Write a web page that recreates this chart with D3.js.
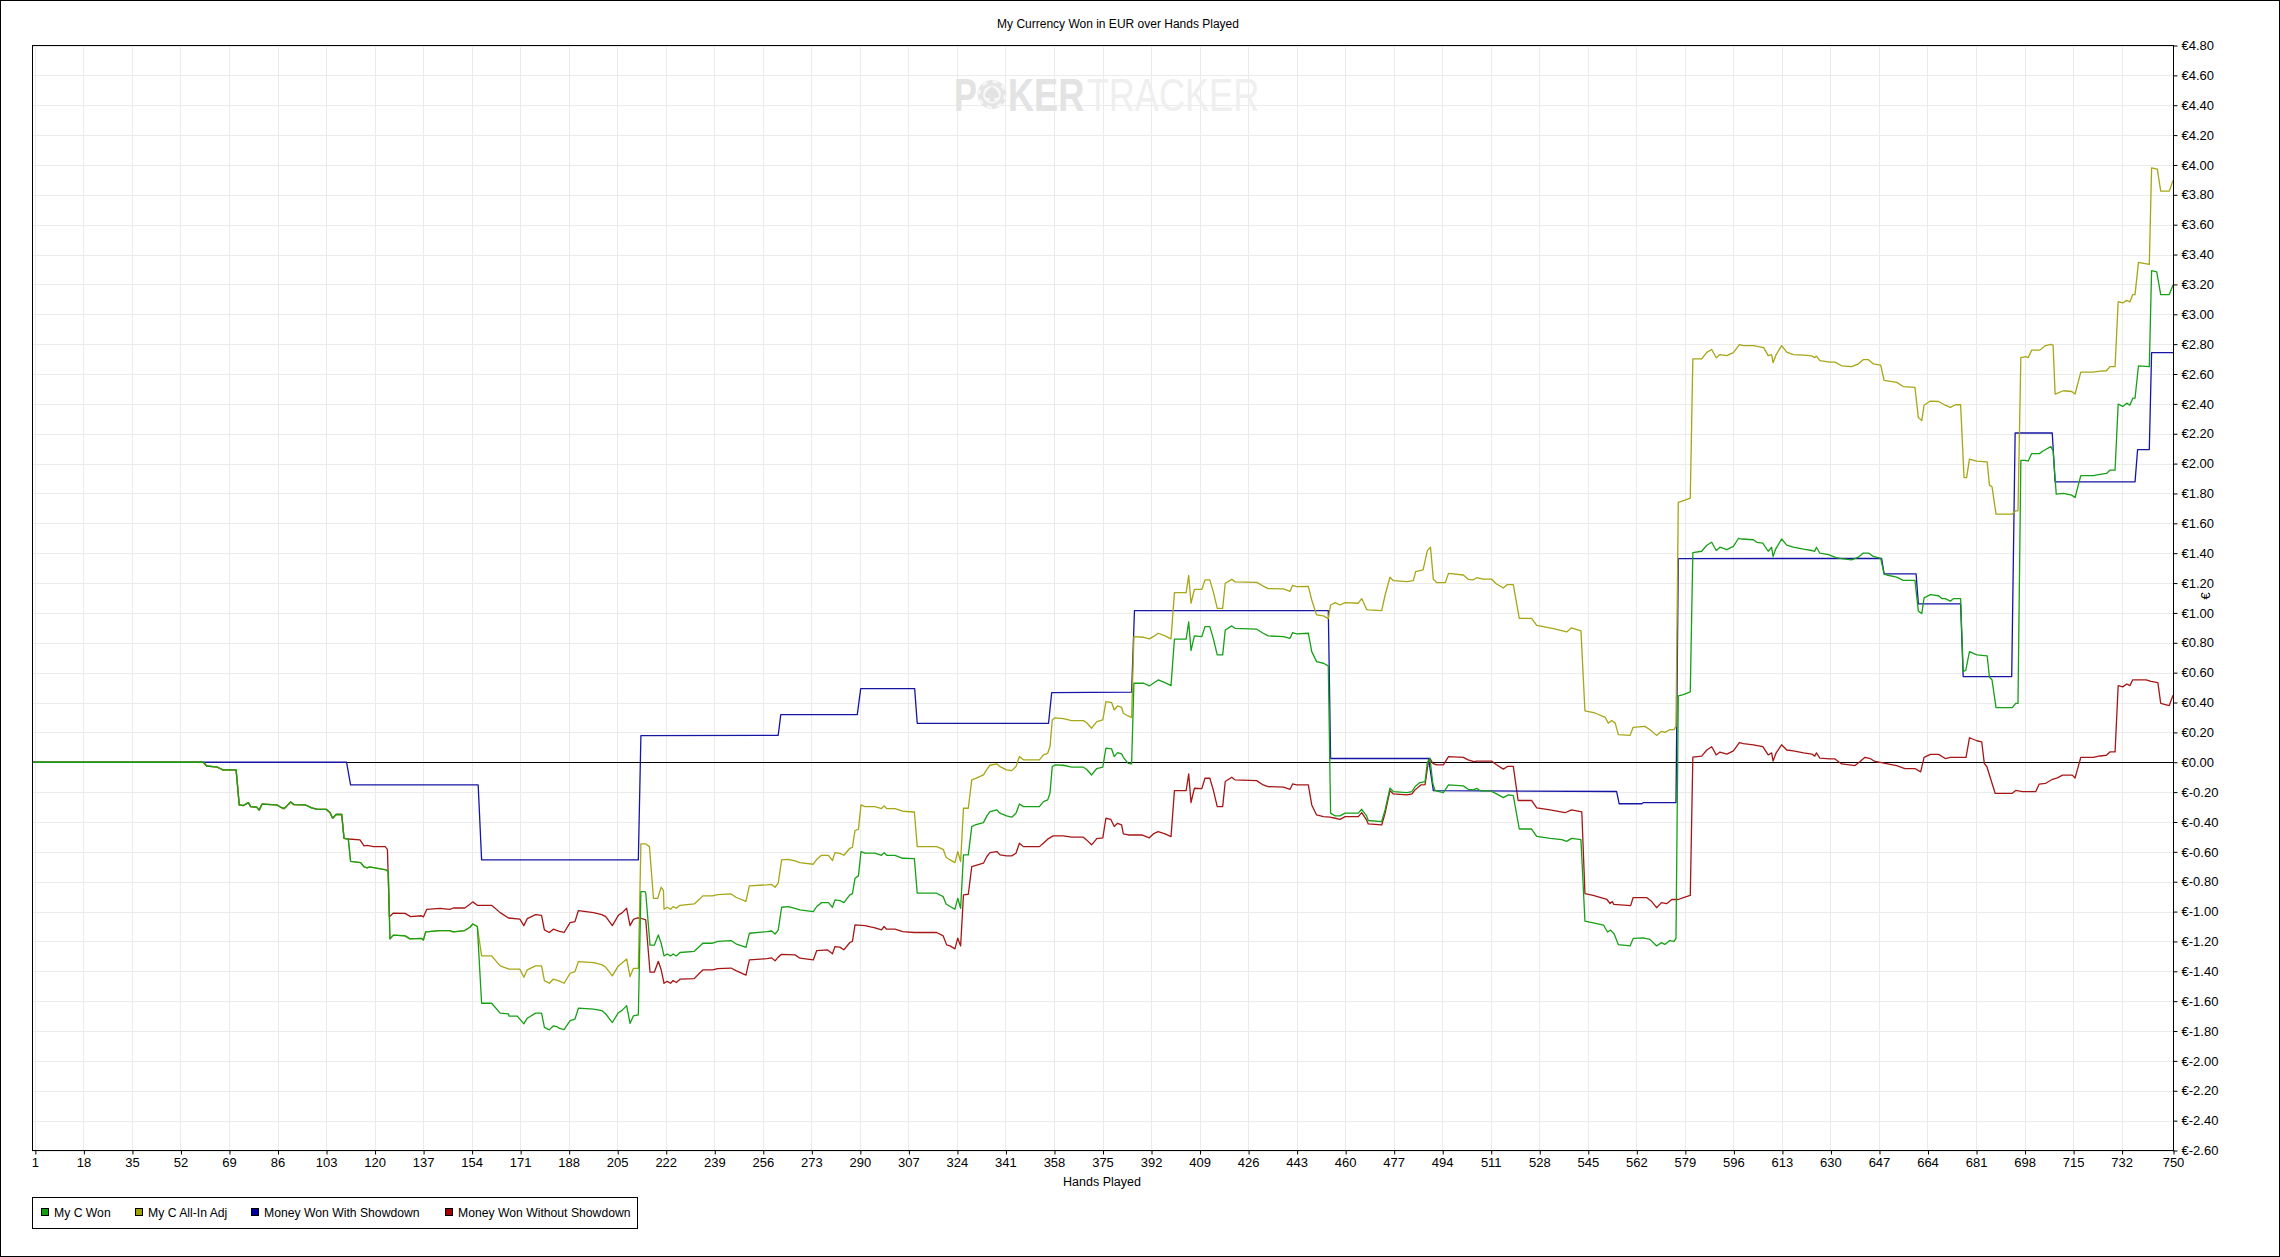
<!DOCTYPE html>
<html><head><meta charset="utf-8">
<script src="https://cdn.jsdelivr.net/npm/d3@7"></script>
<style>
body{margin:0;background:#fff;}
text{font-family:"Liberation Sans Narrow","Arial Narrow","Liberation Sans",sans-serif;}
</style>
</head><body>
<svg id="chart" width="2280" height="1257"></svg>
<script>
// ---------------- DATA ----------------
const title = "My Currency Won in EUR over Hands Played";
const xLabel = "Hands Played";
const yLabel = "€";
const seriesNames = ["My C Won", "My C All-In Adj", "Money Won With Showdown", "Money Won Without Showdown"];
const xTickValues = [1,18,35,52,69,86,103,120,137,154,171,188,205,222,239,256,273,290,307,324,341,358,375,392,409,426,443,460,477,494,511,528,545,562,579,596,613,630,647,664,681,698,715,732,750];
const yTickValues = [-2.6,-2.4,-2.2,-2.0,-1.8,-1.6,-1.4,-1.2,-1.0,-0.8,-0.6,-0.4,-0.2,0,0.2,0.4,0.6,0.8,1.0,1.2,1.4,1.6,1.8,2.0,2.2,2.4,2.6,2.8,3.0,3.2,3.4,3.6,3.8,4.0,4.2,4.4,4.6,4.8];

// [hand, EUR]
const myCWon = [[0,0],[60,0],[61.2,-0.025],[63.3,-0.029],[64.7,-0.031],[65.9,-0.042],[66.8,-0.051],[71.5,-0.051],[72.6,-0.286],[74,-0.29],[75.8,-0.27],[76.6,-0.297],[78.7,-0.30],[79.6,-0.32],[80.6,-0.28],[85.7,-0.285],[87,-0.30],[88.3,-0.31],[89.2,-0.294],[90.6,-0.266],[91.8,-0.284],[95.8,-0.286],[98,-0.306],[100,-0.315],[103,-0.315],[104.4,-0.337],[105.3,-0.375],[106.5,-0.35],[108.5,-0.35],[109.3,-0.51],[110.8,-0.514],[111.6,-0.664],[115.1,-0.672],[116.3,-0.70],[117.5,-0.708],[118.2,-0.70],[124,-0.72],[124.8,-0.733],[125.4,-1.183],[126.6,-1.158],[130.7,-1.163],[132.4,-1.183],[136.5,-1.18],[137.1,-1.19],[137.9,-1.136],[142.9,-1.127],[146.3,-1.127],[147.6,-1.136],[151.6,-1.127],[153.4,-1.105],[154.4,-1.083],[156,-1.10],[157.5,-1.614],[161,-1.614],[164,-1.68],[166.9,-1.685],[167.1,-1.70],[170,-1.70],[172.3,-1.752],[173.5,-1.714],[176.4,-1.68],[178.5,-1.68],[179.5,-1.775],[181.2,-1.792],[182.6,-1.766],[183.8,-1.77],[184.8,-1.782],[186.4,-1.79],[188.5,-1.73],[190.2,-1.72],[191.4,-1.647],[196.7,-1.653],[199.6,-1.663],[201,-1.686],[203.3,-1.743],[205.4,-1.677],[206.8,-1.66],[208.3,-1.63],[209.5,-1.748],[210.7,-1.698],[212.4,-1.692],[213.3,-0.866],[214.7,-0.866],[215,-0.877],[216.5,-1.225],[218,-1.225],[219.4,-1.157],[220.4,-1.212],[221.4,-1.297],[222.5,-1.284],[223.7,-1.297],[224.6,-1.284],[225.7,-1.297],[227,-1.274],[232,-1.266],[233.8,-1.234],[235,-1.212],[238.4,-1.212],[240.2,-1.20],[244.9,-1.194],[246.6,-1.216],[250.1,-1.24],[251.3,-1.145],[257.4,-1.134],[259.1,-1.13],[260.3,-1.15],[261.4,-1.124],[262.6,-0.971],[264.9,-0.967],[267.3,-0.978],[269,-0.989],[273.7,-1.0],[274.9,-0.966],[276.6,-0.94],[279,-0.94],[280.4,-0.971],[281.3,-0.922],[283,-0.926],[284.4,-0.94],[286.5,-0.888],[287.4,-0.88],[288.3,-0.777],[289.5,-0.761],[290.4,-0.598],[291.8,-0.609],[295.3,-0.609],[297.6,-0.623],[298.5,-0.605],[299.4,-0.623],[302.3,-0.623],[305,-0.643],[309.1,-0.645],[310.1,-0.877],[316.9,-0.877],[319.2,-0.9],[320.2,-0.949],[321.6,-0.966],[323.3,-0.984],[324.3,-0.911],[325.3,-0.978],[326.3,-0.62],[328,-0.62],[329.2,-0.431],[330.4,-0.42],[333.3,-0.404],[334.5,-0.359],[335.6,-0.33],[338,-0.319],[339.1,-0.341],[341.4,-0.359],[343.2,-0.368],[344.7,-0.341],[345.9,-0.279],[347.3,-0.297],[352.9,-0.297],[354.3,-0.263],[355.8,-0.252],[356.6,-0.208],[357.4,-0.029],[358.3,-0.018],[361.3,-0.02],[364.2,-0.033],[368.3,-0.033],[369.4,-0.047],[371.2,-0.085],[373,-0.042],[375.1,-0.033],[376.2,0.094],[378.2,0.089],[379.1,0.038],[380.3,0.065],[381.7,0.056],[382.3,0.033],[384,-0.007],[385.2,-0.011],[386,0.529],[389.4,0.529],[391.4,0.511],[392.8,0.529],[394.5,0.551],[396.9,0.533],[399,0.513],[400.2,0.824],[404.3,0.824],[405.2,0.94],[406,0.748],[407.2,0.846],[409.8,0.842],[410.9,0.908],[412.6,0.908],[413.8,0.83],[415.2,0.719],[417.1,0.719],[418,0.886],[420.3,0.913],[421.4,0.897],[429,0.891],[431.3,0.864],[433,0.846],[438.4,0.841],[440.7,0.83],[441.6,0.868],[443,0.86],[447.1,0.864],[448.3,0.741],[450,0.674],[452.4,0.663],[454.1,0.645],[454.9,-0.341],[456.5,-0.359],[458.2,-0.359],[460,-0.341],[464.6,-0.341],[465.8,-0.315],[467.5,-0.359],[468.1,-0.39],[472.8,-0.397],[474,-0.319],[475.7,-0.174],[476.9,-0.196],[481.6,-0.203],[483.4,-0.196],[484.5,-0.163],[486.2,-0.136],[488,-0.13],[488.8,-0.002],[489.7,0.027],[490.7,-0.141],[491.5,-0.19],[494.4,-0.203],[496.2,-0.152],[501.4,-0.158],[503.1,-0.181],[504.9,-0.185],[506.1,-0.175],[507.3,-0.191],[510.7,-0.191],[512.9,-0.21],[515.4,-0.237],[517.2,-0.218],[518.9,-0.224],[521,-0.447],[525.3,-0.447],[527.1,-0.496],[531.8,-0.51],[535.9,-0.518],[537.6,-0.53],[539.3,-0.51],[542.6,-0.518],[544,-1.064],[546.9,-1.075],[550.5,-1.09],[551.9,-1.137],[553,-1.124],[554.2,-1.148],[555.7,-1.221],[559.8,-1.23],[560.9,-1.18],[564.4,-1.176],[566.8,-1.186],[569.1,-1.23],[570.8,-1.208],[572,-1.22],[573.7,-1.194],[575.2,-1.2],[575.9,-1.18],[576.7,0.444],[578.5,0.453],[580.9,0.472],[581.8,1.404],[584.9,1.413],[586.7,1.453],[588.4,1.473],[590,1.418],[591.3,1.44],[593.7,1.424],[596,1.446],[597.8,1.5],[599,1.495],[603,1.49],[604.2,1.473],[606.3,1.468],[608.2,1.413],[609.4,1.44],[609.9,1.378],[610.8,1.427],[612.9,1.495],[614.7,1.454],[617,1.44],[620.6,1.427],[623.5,1.418],[624.5,1.413],[625.1,1.44],[626.3,1.4],[629.3,1.39],[632,1.37],[634,1.364],[637.4,1.356],[639.8,1.373],[641.5,1.401],[643.3,1.401],[645,1.379],[647.6,1.365],[648.8,1.262],[649.7,1.254],[653.2,1.24],[655.5,1.218],[659.6,1.218],[660.8,1.012],[662,0.996],[662.8,1.101],[665,1.123],[667.9,1.115],[669,1.096],[670.2,1.096],[672,1.079],[673.2,1.096],[675.6,1.096],[676.5,0.607],[677.4,0.616],[678.7,0.741],[681.3,0.719],[684.9,0.713],[685.7,0.569],[686.6,0.552],[688,0.366],[693.7,0.366],[694.9,0.394],[695.7,0.394],[696.7,2.022],[698.2,2.022],[699.3,2.017],[700.5,2.067],[703.2,2.067],[704.6,2.086],[707.2,2.114],[708,2.086],[709.1,1.795],[711.6,1.8],[714.5,1.789],[715.7,1.773],[717.7,1.92],[722.1,1.92],[724.4,1.928],[726.7,1.934],[727.9,1.956],[729.7,1.956],[730.8,2.399],[732.4,2.383],[733.8,2.405],[734.9,2.391],[735.9,2.438],[736.7,2.438],[737.9,2.655],[741.7,2.649],[742.5,3.293],[744.3,3.284],[745.7,3.132],[748.7,3.132],[750,3.196]];

const myCAllInAdj = [[0,0],[60,0],[61.2,-0.025],[63.3,-0.029],[64.7,-0.031],[65.9,-0.042],[66.8,-0.051],[71.5,-0.051],[72.6,-0.286],[74,-0.29],[75.8,-0.27],[76.6,-0.297],[78.7,-0.30],[79.6,-0.32],[80.6,-0.28],[85.7,-0.285],[87,-0.30],[88.3,-0.31],[89.2,-0.294],[90.6,-0.266],[91.8,-0.284],[95.8,-0.286],[98,-0.306],[100,-0.315],[103,-0.315],[104.4,-0.337],[105.3,-0.375],[106.5,-0.35],[108.5,-0.35],[109.3,-0.51],[110.8,-0.514],[111.6,-0.664],[115.1,-0.672],[116.3,-0.70],[117.5,-0.708],[118.2,-0.70],[124,-0.72],[124.8,-0.733],[125.4,-1.183],[126.6,-1.158],[130.7,-1.163],[132.4,-1.183],[136.5,-1.18],[137.1,-1.19],[137.9,-1.136],[142.9,-1.127],[146.3,-1.127],[147.6,-1.136],[151.6,-1.127],[153.4,-1.105],[154.4,-1.083],[156,-1.10],[157.5,-1.297],[161,-1.297],[164,-1.364],[167.1,-1.386],[170.9,-1.386],[172.3,-1.44],[173.5,-1.39],[176.4,-1.364],[178.5,-1.364],[179.5,-1.462],[181.2,-1.48],[182.6,-1.453],[184.8,-1.466],[186.4,-1.48],[188.5,-1.413],[190.2,-1.402],[191.4,-1.335],[196.7,-1.342],[199.6,-1.355],[201,-1.373],[203.3,-1.43],[205.4,-1.364],[206.8,-1.342],[208.3,-1.317],[209.5,-1.435],[210.7,-1.38],[212.4,-1.38],[213.3,-0.547],[215,-0.547],[216.3,-0.565],[217.7,-0.911],[219.2,-0.911],[220.4,-0.837],[221.2,-0.86],[221.4,-0.984],[222.5,-0.971],[223.7,-0.984],[224.6,-0.967],[225.7,-0.978],[227,-0.958],[232,-0.949],[233.8,-0.918],[235,-0.895],[238.4,-0.895],[240.2,-0.887],[244.9,-0.882],[246.6,-0.904],[250.1,-0.931],[251.3,-0.828],[257.4,-0.821],[259.1,-0.818],[260.3,-0.837],[261.4,-0.81],[262.6,-0.654],[264.9,-0.65],[267.3,-0.661],[269,-0.672],[273.7,-0.683],[274.9,-0.65],[276.6,-0.623],[279,-0.623],[280.4,-0.658],[281.3,-0.605],[283,-0.61],[284.4,-0.623],[286.5,-0.576],[287.4,-0.57],[288.3,-0.457],[289.5,-0.449],[290.4,-0.285],[291.8,-0.297],[295.3,-0.297],[297.6,-0.31],[298.5,-0.292],[299.4,-0.31],[302.3,-0.31],[305,-0.328],[309.1,-0.333],[310.1,-0.565],[316.9,-0.565],[319.2,-0.583],[320.2,-0.636],[321.6,-0.654],[323.3,-0.672],[324.3,-0.598],[325.3,-0.665],[326.3,-0.308],[328,-0.308],[329.2,-0.118],[330.4,-0.11],[333.3,-0.085],[334.5,-0.047],[335.6,-0.02],[338,-0.011],[339.1,-0.029],[341.4,-0.051],[343.2,-0.056],[344.7,-0.029],[345.9,0.038],[347.3,0.016],[352.9,0.016],[354.3,0.049],[355.8,0.06],[356.6,0.105],[357.4,0.283],[358.3,0.297],[361.3,0.292],[364.2,0.279],[368.3,0.279],[369.4,0.266],[371.2,0.228],[373,0.272],[375.1,0.283],[376.2,0.406],[378.2,0.4],[379.1,0.35],[380.3,0.377],[381.7,0.368],[382.3,0.328],[384,0.31],[385.2,0.301],[386,0.841],[389.4,0.837],[391.4,0.826],[392.8,0.841],[394.5,0.864],[396.9,0.846],[399,0.826],[400.2,1.136],[404.3,1.136],[405.2,1.252],[406,1.065],[407.2,1.158],[409.8,1.158],[410.9,1.221],[412.6,1.221],[413.8,1.143],[415.2,1.031],[417.1,1.031],[418,1.199],[420.3,1.225],[421.4,1.208],[429,1.205],[431.3,1.18],[433,1.163],[438.4,1.161],[440.7,1.145],[441.6,1.185],[443,1.176],[447.1,1.178],[448.3,1.087],[450,0.987],[452.4,0.98],[454.1,0.962],[454.9,1.053],[456.5,1.069],[458.2,1.053],[460,1.069],[464.6,1.065],[465.8,1.096],[467.5,1.024],[468.1,1.02],[472.8,1.016],[474,1.12],[475.7,1.239],[476.9,1.216],[481.6,1.21],[483.9,1.216],[484.7,1.277],[487.3,1.288],[488.8,1.417],[489.9,1.44],[490.9,1.225],[492.1,1.203],[495.1,1.203],[496.2,1.265],[501.4,1.254],[503.1,1.225],[504.9,1.222],[506.1,1.236],[508.4,1.227],[511.3,1.227],[512.9,1.195],[515.4,1.167],[516.8,1.19],[518.9,1.19],[521,0.963],[525.3,0.963],[527.1,0.916],[533,0.895],[537.6,0.873],[539.3,0.9],[542.6,0.88],[544,0.344],[547.5,0.33],[551.1,0.3],[552.2,0.262],[553.4,0.28],[554.6,0.262],[555.7,0.185],[559.8,0.18],[560.9,0.234],[565,0.24],[566.8,0.218],[569.1,0.18],[570.8,0.207],[572,0.2],[573.7,0.218],[575.2,0.218],[575.9,0.24],[576.7,1.74],[579,1.755],[580.9,1.769],[581.8,2.701],[584.9,2.701],[586.7,2.745],[588.4,2.764],[590,2.709],[591.3,2.73],[593.7,2.723],[596,2.743],[598.1,2.797],[599.5,2.79],[603,2.79],[604.4,2.785],[606.6,2.777],[608.2,2.723],[609.4,2.73],[609.9,2.676],[611,2.73],[612.9,2.79],[614.7,2.747],[617,2.73],[620.6,2.727],[623.5,2.721],[624.5,2.71],[625.1,2.72],[626.3,2.69],[629.8,2.68],[631.6,2.68],[633.9,2.655],[637.4,2.649],[639.8,2.668],[641.5,2.696],[643.3,2.696],[645,2.668],[647.6,2.66],[648.8,2.558],[653.2,2.544],[655.5,2.516],[659.6,2.51],[660.8,2.308],[662,2.288],[662.8,2.391],[665,2.419],[667.9,2.416],[670.2,2.391],[672,2.377],[673.8,2.394],[675.6,2.394],[676.8,1.906],[677.7,1.906],[678.7,2.03],[681.3,2.016],[684.9,2.011],[685.7,1.856],[686.6,1.845],[688,1.662],[693.7,1.662],[694.9,1.684],[695.7,1.684],[696.7,2.71],[698.4,2.716],[699.3,2.71],[700.5,2.76],[703.4,2.76],[705.1,2.788],[707.2,2.799],[708,2.793],[708.7,2.466],[711.6,2.488],[714.5,2.483],[715.7,2.466],[717.7,2.613],[722.1,2.613],[724.4,2.619],[726.7,2.622],[727.9,2.649],[729.7,2.649],[730.8,3.085],[732.4,3.076],[733.8,3.093],[734.9,3.082],[735.9,3.132],[736.7,3.132],[737.9,3.348],[741.7,3.334],[742.5,3.981],[744.5,3.972],[745.7,3.825],[748.7,3.825],[750,3.897]];

const wonWithShowdown = [[0,0],[110.2,0],[111.6,-0.152],[156.3,-0.152],[157.5,-0.654],[212.4,-0.654],[213.3,0.178],[261.4,0.181],[262.3,0.319],[289.1,0.319],[290.3,0.493],[309.2,0.493],[310.1,0.261],[356.1,0.261],[357.2,0.466],[385.2,0.469],[386.2,1.016],[454.1,1.016],[454.9,0.025],[489.2,0.025],[490.9,-0.19],[555.1,-0.196],[556,-0.278],[563.9,-0.278],[564.5,-0.27],[575.9,-0.27],[576.7,1.364],[647.9,1.365],[648.8,1.262],[660,1.262],[660.8,1.06],[675.6,1.06],[676.5,0.574],[693.5,0.574],[694.7,2.205],[707.7,2.205],[708.7,1.878],[736.7,1.878],[737.6,2.094],[741.7,2.094],[742.5,2.743],[750,2.743]];

const wonWithoutShowdown = [[0,0],[60,0],[61.2,-0.025],[63.3,-0.029],[64.7,-0.031],[65.9,-0.042],[66.8,-0.051],[71.5,-0.051],[72.6,-0.286],[74,-0.29],[75.8,-0.27],[76.6,-0.297],[78.7,-0.30],[79.6,-0.32],[80.6,-0.28],[85.7,-0.285],[87,-0.30],[88.3,-0.31],[89.2,-0.294],[90.6,-0.266],[91.8,-0.284],[95.8,-0.286],[98,-0.306],[100,-0.315],[103,-0.315],[104.4,-0.337],[105.3,-0.375],[106.5,-0.35],[108.5,-0.35],[109.3,-0.51],[111,-0.514],[114.9,-0.52],[116.3,-0.56],[117.5,-0.556],[119.6,-0.565],[123.7,-0.565],[124.5,-0.583],[125.2,-1.034],[126.6,-1.01],[130.7,-1.012],[132.6,-1.034],[136.5,-1.028],[137.1,-1.036],[138.3,-0.985],[142.9,-0.978],[146.3,-0.985],[147.6,-0.976],[151.6,-0.976],[153.4,-0.951],[154.4,-0.935],[156,-0.958],[161,-0.958],[164,-1.007],[166.9,-1.043],[170.9,-1.05],[172.3,-1.094],[173.5,-1.047],[176.4,-1.02],[178.5,-1.025],[179.5,-1.123],[181.2,-1.14],[182.6,-1.118],[184.8,-1.132],[186.4,-1.14],[188.5,-1.074],[190.2,-1.067],[191.4,-0.993],[196.7,-1.007],[199.6,-1.02],[201,-1.034],[203.3,-1.094],[205.4,-1.025],[206.8,-1.007],[208.3,-0.978],[209.5,-1.094],[210.7,-1.052],[211.9,-1.043],[213,-1.043],[215,-1.056],[216.5,-1.406],[218,-1.406],[219.4,-1.333],[220.4,-1.39],[221.4,-1.48],[222.5,-1.467],[223.7,-1.48],[224.6,-1.462],[225.7,-1.475],[227,-1.453],[232,-1.449],[233.8,-1.413],[235,-1.391],[238.4,-1.391],[240.2,-1.382],[244.9,-1.378],[246.6,-1.395],[250.1,-1.426],[251.3,-1.324],[257.4,-1.315],[259.1,-1.31],[260.3,-1.33],[261.4,-1.305],[262.6,-1.286],[267.3,-1.29],[269,-1.312],[273.7,-1.324],[274.9,-1.261],[278.6,-1.256],[280.4,-1.283],[281.3,-1.234],[283,-1.238],[284.4,-1.256],[286.5,-1.207],[287.4,-1.2],[288.3,-1.089],[291.8,-1.094],[295.3,-1.109],[297.6,-1.123],[298.5,-1.1],[299.4,-1.118],[302.3,-1.118],[305,-1.134],[309.1,-1.14],[316.9,-1.14],[319.2,-1.163],[320.4,-1.223],[321.6,-1.23],[323.3,-1.25],[324.3,-1.178],[325.3,-1.23],[326.3,-0.888],[328,-0.884],[329.2,-0.699],[333.3,-0.676],[334.5,-0.631],[335.6,-0.605],[338,-0.598],[339.1,-0.62],[341.4,-0.627],[343.2,-0.627],[344.7,-0.609],[345.9,-0.542],[347.3,-0.565],[352.9,-0.565],[354.3,-0.542],[355.8,-0.515],[357.7,-0.493],[361.3,-0.493],[364.2,-0.502],[368.3,-0.502],[369.4,-0.52],[371.2,-0.553],[373,-0.511],[375.1,-0.507],[376.2,-0.375],[377.9,-0.382],[379.1,-0.43],[380.3,-0.409],[381.7,-0.42],[382.3,-0.48],[384,-0.487],[388.8,-0.487],[391.4,-0.506],[392.8,-0.48],[394.5,-0.464],[396.9,-0.48],[399,-0.498],[400.2,-0.19],[404.3,-0.19],[405.2,-0.078],[406,-0.27],[407.2,-0.174],[409.8,-0.176],[410.9,-0.107],[412.6,-0.107],[413.8,-0.185],[415.2,-0.297],[417.1,-0.297],[418,-0.129],[420.3,-0.1],[421.4,-0.118],[429,-0.123],[431.3,-0.152],[433,-0.163],[438.4,-0.167],[440.7,-0.181],[441.6,-0.145],[443,-0.152],[447.1,-0.152],[448.3,-0.286],[450,-0.353],[452.4,-0.364],[454.7,-0.368],[456.5,-0.375],[458.2,-0.382],[460,-0.364],[464.6,-0.364],[465.8,-0.337],[467.5,-0.386],[468.1,-0.413],[472.8,-0.42],[474,-0.341],[475.7,-0.19],[476.9,-0.212],[481.6,-0.218],[483.4,-0.212],[484.5,-0.185],[486.5,-0.152],[488,-0.15],[489.2,0.011],[489.7,0.027],[490.7,-0.007],[492.1,-0.018],[494.4,-0.018],[496.2,0.038],[501.4,0.033],[503.1,0.016],[505.1,0.004],[506.1,0.008],[511.3,0.008],[512.9,-0.015],[515.4,-0.046],[517,-0.027],[518.9,-0.027],[520.6,-0.256],[525.3,-0.256],[527.1,-0.305],[531.8,-0.319],[537,-0.338],[539.3,-0.319],[542.9,-0.333],[544,-0.879],[546.9,-0.892],[551.7,-0.919],[552.8,-0.946],[553.6,-0.933],[554.1,-0.952],[560,-0.96],[560.9,-0.906],[565.6,-0.906],[567.4,-0.933],[569.1,-0.974],[570.8,-0.94],[572.6,-0.947],[574.4,-0.919],[576.7,-0.919],[578.5,-0.906],[580.9,-0.892],[581.8,0.035],[584.9,0.041],[586.7,0.082],[588.4,0.104],[590,0.049],[591.3,0.068],[593.7,0.055],[596,0.076],[598.1,0.131],[599.5,0.125],[603,0.117],[606.3,0.104],[608.2,0.049],[609.4,0.063],[609.9,0.008],[611,0.063],[612.9,0.117],[614.7,0.082],[617,0.076],[620.6,0.063],[623.5,0.055],[624.5,0.041],[625.1,0.063],[626.3,0.027],[629.8,0.022],[631.6,0.022],[633.9,-0.011],[638.6,-0.022],[640.4,0.005],[642.1,0.033],[643.9,0.025],[645.6,0.005],[647.9,-0.003],[650.9,-0.014],[653.2,-0.022],[656.1,-0.042],[659.6,-0.042],[661.6,-0.064],[662.8,0.033],[665,0.053],[667.9,0.053],[670.2,0.025],[672,0.033],[677.5,0.033],[678.7,0.164],[681.3,0.144],[683,0.136],[683.9,-0.008],[684.8,-0.03],[687.7,-0.208],[693.7,-0.208],[694.9,-0.189],[697.3,-0.197],[701.9,-0.197],[703.1,-0.147],[705.4,-0.141],[707.8,-0.114],[709.5,-0.105],[711.3,-0.086],[714.7,-0.086],[715.7,-0.105],[717.7,0.033],[722.1,0.033],[724.4,0.042],[726.7,0.047],[727.9,0.069],[729.7,0.069],[730.8,0.513],[732.4,0.505],[733.8,0.524],[734.9,0.513],[735.9,0.552],[740.6,0.552],[742.3,0.541],[744.7,0.533],[745.7,0.394],[748.7,0.38],[750,0.449]];

// ---------------- DRAWING ----------------
const W = 2280, H = 1257;
const plot = {left: 32, right: 2173, top: 45, bottom: 1150};
const colors = ["#16a016", "#a6a616", "#1616a6", "#a61616"];
const legendColors = ["#12a012", "#a0a000", "#0000a0", "#a00000"];
const narrow = '"Liberation Sans Narrow","Arial Narrow","Liberation Sans",sans-serif';

const svg = d3.select("#chart");
svg.append("rect").attr("x",0).attr("y",0).attr("width",W).attr("height",H).attr("fill","#fff");
svg.append("rect").attr("x",0.5).attr("y",0.5).attr("width",W-1).attr("height",H-1)
  .attr("fill","none").attr("stroke","#000").attr("stroke-width",1);

const x = d3.scaleLinear().domain([0,750]).range([plot.left, plot.right]);
const y = d3.scaleLinear().domain([-2.6,4.8]).range([plot.bottom+0.5, plot.top+0.5]);
const px = v => Math.round(v) + 0.5;

// grid
const grid = svg.append("g");
grid.selectAll("line.vx").data(xTickValues).join("line")
  .attr("x1", d=>px(x(d))).attr("x2", d=>px(x(d)))
  .attr("y1", plot.top).attr("y2", plot.bottom)
  .attr("stroke","#ebebeb").attr("stroke-width",1);
grid.selectAll("line.hy").data(yTickValues).join("line")
  .attr("y1", d=>px(y(d))).attr("y2", d=>px(y(d)))
  .attr("x1", plot.left).attr("x2", plot.right)
  .attr("stroke","#ebebeb").attr("stroke-width",1);

// watermark
const wm = svg.append("g");
wm.append("text").attr("x",954).attr("y",111).text("P")
  .attr("font-size",46).attr("font-weight","bold").attr("fill","#e3e3e3")
  .attr("textLength",23).attr("lengthAdjust","spacingAndGlyphs");
wm.append("circle").attr("cx",992).attr("cy",94.5).attr("r",14.5).attr("fill","#e5e5e5");
wm.append("circle").attr("cx",992).attr("cy",94.5).attr("r",13).attr("fill","none")
  .attr("stroke","#f7f7f7").attr("stroke-width",2.5).attr("stroke-dasharray","5 5.2");
wm.append("circle").attr("cx",992).attr("cy",94.5).attr("r",9).attr("fill","#f8f8f8");
wm.append("path").attr("fill","#e2e2e2")
  .attr("d","M992,86 C996,90 999,92 999,95.5 C999,98 996,99 993.5,97.5 L995,101.5 L989,101.5 L990.5,97.5 C988,99 985,98 985,95.5 C985,92 988,90 992,86 Z");
const wmText = wm.append("text").attr("y",111).attr("font-size",46);
wmText.append("tspan").attr("font-weight","bold").attr("fill","#e3e3e3").text("KER");
wmText.append("tspan").attr("fill","#efefef").attr("dx",3).text("TRACKER");
const wmW = wmText.node().getComputedTextLength();
wmText.attr("transform",`translate(1008,0) scale(${249/wmW},1)`);

// zero line
svg.append("line").attr("x1",plot.left).attr("x2",plot.right)
  .attr("y1",px(y(0))).attr("y2",px(y(0))).attr("stroke","#000").attr("stroke-width",1);

// series lines (first series drawn on top)
const series = [myCWon, myCAllInAdj, wonWithShowdown, wonWithoutShowdown];
const line = d3.line().x(d=>x(d[0])).y(d=>y(d[1]));
const lines = svg.append("g");
[3,2,1,0].forEach(i=>{
  lines.append("path").datum(series[i]).attr("d", line)
    .attr("fill","none").attr("stroke",colors[i]).attr("stroke-width",1.3)
    .attr("stroke-linejoin","round");
});

// plot border
svg.append("rect").attr("x",plot.left+0.5).attr("y",plot.top+0.5)
  .attr("width",plot.right-plot.left).attr("height",plot.bottom-plot.top)
  .attr("fill","none").attr("stroke","#000").attr("stroke-width",1);

// x axis
const xAxis = d3.axisBottom(x).tickValues(xTickValues).tickSize(4).tickPadding(3).tickFormat(d3.format("d"));
const gx = svg.append("g").attr("transform",`translate(0,${plot.bottom+0.5})`).call(xAxis);
gx.select(".domain").remove();
gx.selectAll(".tick line").attr("stroke","#000").attr("x1",0.5).attr("x2",0.5);
gx.selectAll("text").attr("font-size",13).style("font-family",narrow).attr("fill","#000");

// y axis (right)
const yAxis = d3.axisRight(y).tickValues(yTickValues).tickSize(4).tickPadding(4)
  .tickFormat(d => "€" + d3.format(".2f")(d).replace("−","-"));
const gy = svg.append("g").attr("transform",`translate(${plot.right+0.5},0)`).call(yAxis);
gy.select(".domain").remove();
gy.selectAll(".tick line").attr("stroke","#000");
gy.selectAll("text").attr("font-size",13).style("font-family",narrow).attr("fill","#000");

// axis titles
svg.append("text").attr("x",1102).attr("y",1186).attr("text-anchor","middle")
  .attr("font-size",12.5).attr("fill","#000").text(xLabel);
svg.append("text").attr("transform","translate(2210,596) rotate(-90)").attr("text-anchor","middle")
  .attr("font-size",13).attr("fill","#000").text(yLabel);

// title
svg.append("text").attr("x",1118).attr("y",28).attr("text-anchor","middle")
  .attr("font-size",12).attr("fill","#000").text(title);

// legend
const legend = svg.append("g");
legend.append("rect").attr("x",32.5).attr("y",1197.5).attr("width",605).attr("height",31)
  .attr("fill","#fff").attr("stroke","#000").attr("stroke-width",1);
const legX = [41, 135, 251, 445];
seriesNames.forEach((n,i)=>{
  legend.append("rect").attr("x",legX[i]+0.5).attr("y",1208.5).attr("width",7).attr("height",7)
    .attr("fill",legendColors[i]).attr("stroke","#000").attr("stroke-width",1);
  legend.append("text").attr("x",legX[i]+13).attr("y",1217).attr("font-size",12.2).attr("fill","#000").text(n);
});
</script>
</body></html>
